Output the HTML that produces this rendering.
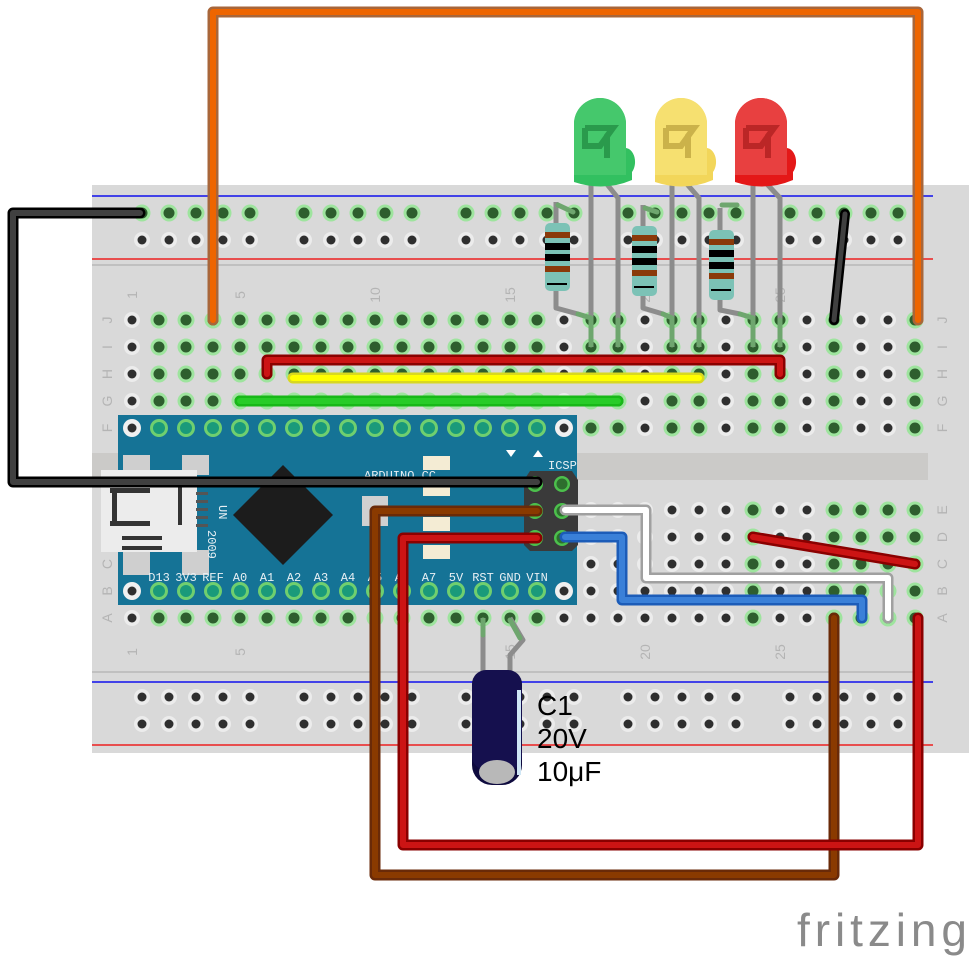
<!DOCTYPE html>
<html><head><meta charset="utf-8"><style>
html,body{margin:0;padding:0;background:#fff;width:969px;height:957px;overflow:hidden}
svg{display:block}
.lbl{font-family:"Liberation Mono",monospace;font-size:12px;fill:#e8f0f4}
.bb{font-family:"Liberation Sans",sans-serif;font-size:14px;fill:#b4b4b4}
</style></head><body>
<svg id="s" width="969" height="957" viewBox="0 0 969 957" xmlns="http://www.w3.org/2000/svg">
<rect x="92" y="185" width="877" height="568" fill="#d9d9d9"/>
<line x1="92" y1="196" x2="933" y2="196" stroke="#1010ee" stroke-width="1.5"/>
<line x1="92" y1="259" x2="933" y2="259" stroke="#ee2020" stroke-width="1.5"/>
<line x1="92" y1="265" x2="920" y2="265" stroke="#b8b8b8" stroke-width="1.5"/>
<line x1="92" y1="672" x2="920" y2="672" stroke="#b8b8b8" stroke-width="1.5"/>
<line x1="92" y1="682" x2="933" y2="682" stroke="#1010ee" stroke-width="1.5"/>
<line x1="92" y1="745" x2="933" y2="745" stroke="#ee2020" stroke-width="1.5"/>
<rect x="92" y="453" width="836" height="27" fill="#cbcac8"/>
<g id="holes"></g>
<g id="labels"></g>

<rect x="118" y="415" width="459" height="190" fill="#157396"/>
<rect x="123" y="455" width="27" height="20" fill="#cfcfcf"/>
<rect x="182" y="455" width="27" height="20" fill="#cfcfcf"/>
<rect x="123" y="550" width="27" height="25" fill="#cfcfcf"/>
<rect x="182" y="550" width="27" height="25" fill="#cfcfcf"/>
<rect x="101" y="470" width="96" height="82" fill="#ececec"/>
<rect x="110" y="488" width="40" height="5" fill="#333"/>
<rect x="110" y="521" width="40" height="5" fill="#333"/>
<rect x="112" y="492" width="5" height="32" fill="#333"/>
<rect x="178" y="485" width="4" height="40" fill="#333"/>
<rect x="122" y="536" width="40" height="4" fill="#333"/>
<rect x="122" y="546" width="40" height="4" fill="#333"/>
<rect x="196" y="492" width="12" height="3" fill="#555"/>
<rect x="196" y="500" width="12" height="3" fill="#555"/>
<rect x="196" y="508" width="12" height="3" fill="#555"/>
<rect x="196" y="516" width="12" height="3" fill="#555"/>
<rect x="196" y="524" width="12" height="3" fill="#555"/>
<polygon points="283,465 333,515 283,565 233,515" fill="#1c1c1c"/>
<rect x="362" y="496" width="26" height="30" fill="#d0d0d0"/>
<rect x="423" y="456" width="27" height="14" fill="#f4ecd4"/>
<rect x="423" y="482" width="27" height="14" fill="#f4ecd4"/>
<rect x="423" y="517" width="27" height="14" fill="#f4ecd4"/>
<rect x="423" y="545" width="27" height="14" fill="#f4ecd4"/>
<polygon points="530,471 572,471 578,480 578,545 572,551 530,551 524,545 524,480" fill="#3a3a3a"/>
<text class="lbl" x="364" y="479" font-size="10">ARDUINO.CC</text>
<text class="lbl" x="548" y="469">ICSP</text>
<text class="lbl" x="219" y="505" transform="rotate(90 219 505)" font-size="10">UN</text>
<text class="lbl" x="208" y="530" transform="rotate(90 208 530)" font-size="12">2009</text>
<polygon points="506,450 516,450 511,457" fill="#fff"/>
<polygon points="533,457 543,457 538,450" fill="#fff"/>
<g id="alabels"></g>

<g stroke="#8c8c8c" stroke-width="5" fill="none" stroke-linejoin="round">
<path d="M591,180 V347"/><path d="M606,183 L618,198 V347"/>
<path d="M672,180 V347"/><path d="M686,183 L699,198 V347"/>
<path d="M753,180 V347"/><path d="M766,183 L780,198 V347"/>
<path d="M556,202 V228"/><path d="M556,288 V308 L578,314"/>
<path d="M643,205 V228"/><path d="M643,292 V308 L663,314"/>
<path d="M720,208 V232"/><path d="M720,296 V310 L740,314"/>
<path d="M483,618 V690"/><path d="M510,618 L523,640 L510,655 V690"/>
</g>
<g stroke="#6ea66e" stroke-width="5" stroke-linecap="round">
<line x1="558" y1="205" x2="573" y2="212"/><line x1="578" y1="314" x2="591" y2="318"/>
<line x1="645" y1="208" x2="657" y2="212"/><line x1="663" y1="314" x2="672" y2="318"/>
<line x1="722" y1="205" x2="737" y2="205"/><line x1="740" y1="314" x2="753" y2="318"/>
<line x1="591" y1="320" x2="591" y2="345"/><line x1="618" y1="320" x2="618" y2="345"/>
<line x1="672" y1="320" x2="672" y2="345"/><line x1="699" y1="320" x2="699" y2="345"/>
<line x1="753" y1="320" x2="753" y2="345"/><line x1="780" y1="320" x2="780" y2="345"/>
<line x1="483" y1="620" x2="483" y2="635"/><line x1="510" y1="620" x2="520" y2="638"/>
</g>
<g>
<rect x="545" y="223" width="25" height="68" rx="5" fill="#7cc2b6"/>
<rect x="545" y="232" width="25" height="6" fill="#8a3a0a"/><rect x="545" y="243" width="25" height="7" fill="#000"/><rect x="545" y="254" width="25" height="7" fill="#000"/><rect x="545" y="266" width="25" height="6" fill="#8a3a0a"/><rect x="547" y="283" width="20" height="2" fill="#000"/>
<rect x="632" y="226" width="25" height="70" rx="5" fill="#7cc2b6"/>
<rect x="632" y="235" width="25" height="6" fill="#8a3a0a"/><rect x="632" y="246" width="25" height="7" fill="#000"/><rect x="632" y="258" width="25" height="7" fill="#000"/><rect x="632" y="270" width="25" height="6" fill="#8a3a0a"/><rect x="634" y="286" width="20" height="2" fill="#000"/>
<rect x="709" y="230" width="25" height="70" rx="5" fill="#7cc2b6"/>
<rect x="709" y="239" width="25" height="6" fill="#8a3a0a"/><rect x="709" y="250" width="25" height="7" fill="#000"/><rect x="709" y="262" width="25" height="7" fill="#000"/><rect x="709" y="273" width="25" height="6" fill="#8a3a0a"/><rect x="711" y="289" width="20" height="2" fill="#000"/>
</g>
<g>
<path d="M574,178 V124 A26,26 0 0 1 626,124 V148 A10,14 0 0 1 632,172 L632,180 Q604,192 574,182 Z" fill="#32c060"/>
<path d="M574,124 A26,26 0 0 1 626,124 V175 H574 Z" fill="#45c86c"/>
<path d="M585,128 h28 l-6,8 v22 M585,128 v18 h15 l13,-18" stroke="#2a9a4c" stroke-width="6" fill="none"/>
<path d="M655,178 V124 A26,26 0 0 1 707,124 V148 A10,14 0 0 1 713,172 L713,180 Q685,192 655,182 Z" fill="#f2d65a"/>
<path d="M655,124 A26,26 0 0 1 707,124 V175 H655 Z" fill="#f6e070"/>
<path d="M666,128 h28 l-6,8 v22 M666,128 v18 h15 l13,-18" stroke="#cbb24a" stroke-width="6" fill="none"/>
<path d="M735,178 V124 A26,26 0 0 1 787,124 V148 A10,14 0 0 1 793,172 L793,180 Q765,192 735,182 Z" fill="#e41818"/>
<path d="M735,124 A26,26 0 0 1 787,124 V175 H735 Z" fill="#e84040"/>
<path d="M746,128 h28 l-6,8 v22 M746,128 v18 h15 l13,-18" stroke="#bb2626" stroke-width="6" fill="none"/>
</g>
<rect x="472" y="670" width="50" height="115" rx="20" fill="#0e0a3e"/>
<rect x="472" y="670" width="50" height="100" rx="14" fill="#15104e"/>
<ellipse cx="497" cy="772" rx="18" ry="12" fill="#b8b8b8"/>
<rect x="517" y="690" width="4" height="85" fill="#cfe6f5"/>
<text x="537" y="715" font-family="Liberation Sans,sans-serif" font-size="28" fill="#000">C1</text>
<text x="537" y="748" font-family="Liberation Sans,sans-serif" font-size="28" fill="#000">20V</text>
<text x="537" y="781" font-family="Liberation Sans,sans-serif" font-size="28" fill="#000">10μF</text>

<g fill="none" stroke-linejoin="round" stroke-linecap="round">
<path d="M213,320 V12 H918 V320" stroke="#a8663a" stroke-width="11"/>
<path d="M213,320 V12 H918 V320" stroke="#ee6500" stroke-width="6"/>
<path d="M140,213 H13 V482 H537" stroke="#000" stroke-width="11"/>
<path d="M140,213 H13 V482 H537" stroke="#404040" stroke-width="6"/>
<path d="M845,214 L834,320" stroke="#000" stroke-width="10"/>
<path d="M845,214 L834,320" stroke="#404040" stroke-width="5"/>
<path d="M267,374 V360 H780 V374" stroke="#8a0000" stroke-width="11"/>
<path d="M267,374 V360 H780 V374" stroke="#cc1414" stroke-width="6"/>
<path d="M293,378 H699" stroke="#d8d820" stroke-width="11"/>
<path d="M293,378 H699" stroke="#ffff00" stroke-width="6"/>
<path d="M240,401 H618" stroke="#18b818" stroke-width="11"/>
<path d="M240,401 H618" stroke="#28cc28" stroke-width="6"/>
<path d="M565,510 H646 V578 H888 V618" stroke="#a0a0a0" stroke-width="11"/>
<path d="M565,510 H646 V578 H888 V618" stroke="#ffffff" stroke-width="6"/>
<path d="M565,537 H622 V600 H862 V618" stroke="#1c5cb8" stroke-width="11"/>
<path d="M565,537 H622 V600 H862 V618" stroke="#3a80d8" stroke-width="6"/>
<path d="M753,537 L915,564" stroke="#8a0000" stroke-width="11"/>
<path d="M753,537 L915,564" stroke="#cc1414" stroke-width="6"/>
<path d="M537,511 H375 V875 H834 V618" stroke="#6a2a08" stroke-width="11"/>
<path d="M537,511 H375 V875 H834 V618" stroke="#8a3a00" stroke-width="6"/>
<path d="M537,538 H403 V845 H918 V618" stroke="#8a0000" stroke-width="11"/>
<path d="M537,538 H403 V845 H918 V618" stroke="#cc1414" stroke-width="6"/>
</g>
<text x="797" y="946" font-family="Liberation Sans,sans-serif" font-size="46" fill="#8a8a8a" textLength="170" lengthAdjust="spacing">fritzing</text>
</svg>
<script>
var NS="http://www.w3.org/2000/svg";
var H=document.getElementById("holes"),L=document.getElementById("labels"),AL=document.getElementById("alabels");
function el(p,t,a){var e=document.createElementNS(NS,t);for(var k in a)e.setAttribute(k,a[k]);p.appendChild(e);return e;}
function hole(x,y,g){
 if(g){el(H,"circle",{cx:x,cy:y,r:8.5,fill:"#9ee49e"});el(H,"circle",{cx:x,cy:y,r:5.5,fill:"#2e5e2e"});}
 else{el(H,"circle",{cx:x,cy:y,r:8,fill:"#ececec"});el(H,"circle",{cx:x,cy:y,r:4.5,fill:"#2f2f2f"});}
}
var cx=function(n){return 132+27*(n-1);};
var gs=[142,304,466,628,790];
gs.forEach(function(s){for(var i=0;i<5;i++){var x=s+27*i;
 hole(x,213,true);hole(x,240,false);hole(x,697,false);hole(x,724,false);}});
var topGreen=[2,3,4,5,6,7,8,9,10,11,12,13,14,15,16,18,19,21,22,24,25,27,30];
var botGreen=[2,3,4,5,6,7,8,9,10,11,12,13,14,15,16,24,27,28,29,30];
[320,347,374,401,428].forEach(function(y){for(var n=1;n<=30;n++)hole(cx(n),y,topGreen.indexOf(n)>=0);});
[510,537,564,591,618].forEach(function(y){for(var n=1;n<=30;n++)hole(cx(n),y,botGreen.indexOf(n)>=0);});
var rows={J:320,I:347,H:374,G:401,F:428,E:510,D:537,C:564,B:591,A:618};
for(var k in rows){[107,942].forEach(function(x){var t=el(L,"text",{x:x,y:rows[k]+5,"class":"bb","text-anchor":"middle",transform:"rotate(-90 "+x+" "+rows[k]+")"});t.textContent=k;});}
[[1,"1"],[5,"5"],[10,"10"],[15,"15"],[20,"20"],[25,"25"]].forEach(function(c){var x=cx(c[0]);
 [295,652].forEach(function(y){var t=el(L,"text",{x:x+5,y:y,"class":"bb","text-anchor":"middle",transform:"rotate(-90 "+(x+5)+" "+y+")"});t.textContent=c[1];});});
function apin(x,y,w){if(w){el(AL,"circle",{cx:x,cy:y,r:9,fill:"#f0f0f0"});el(AL,"circle",{cx:x,cy:y,r:4.5,fill:"#2f2f2f"});}
 else{el(AL,"circle",{cx:x,cy:y,r:9,fill:"#6fcf6f"});el(AL,"circle",{cx:x,cy:y,r:6,fill:"#1a9a7a"});}}
var top=["D12","D11","D10","D9","D8","D7","D6","D5","D4","D3","D2","GND","RST","RX0","TX1"];
var bot=["D13","3V3","REF","A0","A1","A2","A3","A4","A5","A6","A7","5V","RST","GND","VIN"];
apin(132,428,true);apin(564,428,true);apin(132,591,true);apin(564,591,true);
for(var i=0;i<15;i++){var x=cx(i+2);apin(x,428,false);apin(x,591,false);
 var t=el(AL,"text",{x:x,y:451,"class":"lbl","text-anchor":"middle"});t.textContent=top[i];
 var b=el(AL,"text",{x:x,y:581,"class":"lbl","text-anchor":"middle"});b.textContent=bot[i];}
[[535,484],[562,484],[535,511],[562,511],[535,538],[562,538]].forEach(function(p){el(AL,"circle",{cx:p[0],cy:p[1],r:8,fill:"#4cc04c"});el(AL,"circle",{cx:p[0],cy:p[1],r:5.5,fill:"#2e6e2e"});});
</script>
</body></html>
